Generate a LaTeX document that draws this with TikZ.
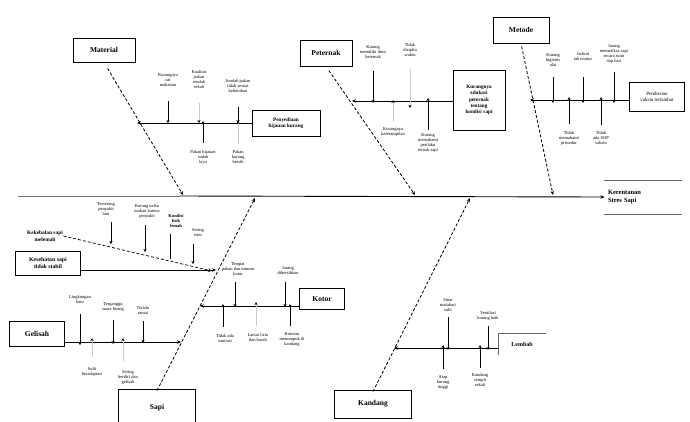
\documentclass[tikz,border=0pt]{standalone}
\usepackage{fontspec}
\setmainfont{Liberation Serif}
\usetikzlibrary{arrows.meta}
\begin{document}
\begin{tikzpicture}[x=1pt,y=-1pt,
 catbox/.style={draw, line width=0.9pt, font=\fontsize{7.5}{8.5}\selectfont\bfseries, align=center, inner sep=1pt},
 subbox/.style={draw, line width=0.6pt, font=\fontsize{5.2}{6.2}\selectfont\bfseries, align=center, inner sep=1pt},
 lbl/.style={font=\fontsize{4.5}{5}\selectfont, align=center, inner sep=0.5pt},
 bone/.style={line width=0.8pt, densely dashed, -{Stealth[length=4pt,width=3.5pt]}},
 rib/.style={line width=0.7pt, -{Stealth[length=4pt,width=3.5pt]}},
 cause/.style={line width=0.8pt, -{Stealth[length=3pt,width=3pt]}, shorten <=5pt},
 faint/.style={line width=0.6pt, draw=black!20, -{Stealth[length=3pt,width=3pt,black]}, shorten <=5pt}
]
\useasboundingbox (0,0) rectangle (690,421);

% ---------- spine and effect ----------
\coordinate (spineL) at (18,196);
\node[font=\fontsize{6.5}{8}\selectfont\bfseries, align=left, text width=70pt, minimum height=34pt] (effect) at (643,197) {Kerentanan\\Stres Sapi};
\draw[line width=0.5pt, black!60] (effect.north west) -- (effect.north east);
\draw[line width=0.5pt, black!60] (effect.south west) -- (effect.south east);
\draw[line width=0.9pt, black!55] (spineL) -- (180,196);
\draw[rib, line width=0.9pt] (180,196) -- (effect.west);

% junctions on spine
\coordinate (jm) at (183,195);
\coordinate (jp) at (415,195);
\coordinate (jt) at (553,195);
\coordinate (js) at (255,198);
\coordinate (jkd) at (470,198);

% ---------- Material ----------
\node[catbox, minimum width=62pt, minimum height=24pt] (mat) at (104,50) {Material};
\draw[bone, shorten <=7pt] (mat.south) -- (jm);
\node[subbox, minimum width=68pt, minimum height=26pt] (pk) at (286,123) {Penyediaan\\hijauan kurang};
\coordinate (mb) at (137,123);
\draw[rib] (pk.west) -- (mb);
\node[lbl] (m1) at (168,80) {Kurangnya\\zat\\makanan};
\node[lbl] (m2) at (199,79) {Kualitas\\pakan\\rendah\\sekali};
\node[lbl] (m3) at (238,86) {Jumlah pakan\\tidak sesuai\\kebutuhan};
\node[lbl] (m4) at (203,157) {Pakan hijauan\\sudah\\layu};
\node[lbl] (m5) at (238,157) {Pakan\\kurang\\bersih};
\draw[cause, shorten <=14pt] (m1.south) -- (m1.south |- mb);
\draw[faint, shorten <=14pt] (m2.south) -- (m2.south |- mb);
\draw[cause, shorten <=14pt] (m3.south) -- (m3.south |- mb);
\draw[cause, shorten <=6pt] (m4.north) -- ([yshift=2pt]m4.north |- mb);
\draw[faint, shorten <=6pt] (m5.north) -- ([yshift=2pt]m5.north |- mb);

% ---------- Peternak ----------
\node[catbox, minimum width=52pt, minimum height=26pt] (pet) at (326,53) {Peternak};
\draw[bone, shorten <=5pt] (pet.south) -- (jp);
\node[subbox, text width=50pt, minimum height=60pt] (ke) at (479,100) {Kurangnya\\edukasi\\peternak\\tentang\\kondisi sapi};
\coordinate (pb) at (352,101);
\draw[rib] (ke.west |- pb) -- (pb);
\node[lbl] (p1) at (373,52) {Kurang\\memiliki ilmu\\beternak};
\node[lbl] (p2) at (410,50) {Tidak\\disiplin\\waktu};
\node[lbl] (p3) at (393,132) {Kurangnya\\keterampilan};
\node[lbl] (p4) at (428,143) {Kurang\\memahami\\perilaku\\ternak sapi};
\draw[cause, shorten <=12pt] (p1.south) -- ([yshift=-2pt]p1.south |- pb);
\draw[faint, shorten <=12pt] (p2.south) -- ([yshift=-7pt]p2.south |- pb);
\draw[faint, shorten <=6pt] (p3.north) -- ([yshift=1pt]p3.north |- pb);
\draw[cause, shorten <=3pt] (p4.north) -- ([yshift=3pt]p4.north |- pb);

% ---------- Metode ----------
\node[catbox, minimum width=56pt, minimum height=26pt] (met) at (521,30) {Metode};
\draw[bone, shorten <=3pt] (met.south) -- (jt);
\node[subbox, minimum width=55pt, minimum height=29pt, font=\fontsize{5}{6}\selectfont] (pv) at (657,97) {Pemberian\\vaksin terlambat};
\coordinate (tb) at (530,100);
\draw[rib] (pv.west |- tb) -- (tb);
\node[lbl] (t1) at (553,60) {Kurang\\higienis\\alat};
\node[lbl] (t2) at (583,56) {Jadwal\\tak teratur};
\node[lbl] (t3) at (614,54) {Jarang\\memeriksa sapi\\secara rutin\\tiap hari};
\node[lbl] (t4) at (569,138) {Tidak\\memahami\\prosedur};
\node[lbl] (t5) at (601,138) {Tidak\\ada SOP\\vaksin};
\draw[cause, shorten <=10pt] (t1.south) -- ([yshift=-3pt]t1.south |- tb);
\draw[cause, shorten <=16pt] (t2.south) -- ([yshift=-3pt]t2.south |- tb);
\draw[cause, shorten <=8pt] (t3.south) -- ([yshift=-3pt]t3.south |- tb);
\draw[cause, shorten <=6pt] (t4.north) -- ([yshift=3pt]t4.north |- tb);
\draw[cause, shorten <=6pt] (t5.north) -- ([yshift=3pt]t5.north |- tb);

% ---------- Sapi ----------
\node[catbox, minimum width=77pt, minimum height=38pt] (sapi) at (157,408) {Sapi};
\draw[bone, shorten <=0pt] ([yshift=-2pt]sapi.north) -- (js);
\coordinate (jk) at (216,270);
\node[subbox, minimum width=65pt, minimum height=24pt, font=\fontsize{5.8}{6.8}\selectfont\bfseries] (ks) at (48,263) {Kesehatan sapi\\tidak stabil};
\draw[rib] (ks.east |- jk) -- (jk);
\node[font=\fontsize{5.4}{6.4}\selectfont\bfseries, align=center, inner sep=0.5pt] (kk) at (45,236) {Kekebalan sapi\\melemah};
\draw[line width=0.7pt, densely dashed, -{Stealth[length=4pt,width=3.5pt]}] (kk.east) -- ([xshift=-4pt,yshift=-1pt]jk);
\coordinate (ka) at (111,244);
\coordinate (kb) at (145,252);
\coordinate (kc) at (170,259);
\coordinate (kdd) at (193,264);
\node[lbl] (s1) at (106,209) {Terserang\\penyakit\\lain};
\node[lbl] (s2) at (147,211) {Kurang nafsu\\makan karena\\penyakit};
\node[lbl, font=\fontsize{4.5}{5}\selectfont\bfseries] (s3) at (176,221) {Kondisi\\fisik\\lemah};
\node[lbl] (s4) at (198,233) {Sering\\stres};
\draw[cause, shorten <=6pt] (s1.south -| ka) -- (ka);
\draw[cause, shorten <=6pt] (s2.south -| kb) -- (kb);
\draw[line width=0.8pt, shorten <=6pt] (s3.south -| kc) -- (kc);
\draw[cause, shorten <=6pt] (s4.south -| kdd) -- (kdd);

% Gelisah
\node[catbox, minimum width=55pt, minimum height=25pt] (gl) at (37,334) {Gelisah};
\coordinate (jg) at (181,342);
\draw[rib] (gl.east |- jg) -- (jg);
\node[lbl] (g1) at (80,299) {Lingkungan\\baru};
\node[lbl] (g2) at (113,307) {Terganggu\\suara bising};
\node[lbl] (g3) at (143,310) {Terlalu\\ramai};
\node[lbl] (g4) at (92,372) {Sulit\\beradaptasi};
\node[lbl] (g5) at (128,377) {Sering\\berdiri dan\\gelisah};
\draw[cause, shorten <=10pt] (g1.south) -- ([yshift=-3pt]g1.south |- jg);
\draw[cause, shorten <=8pt] (g2.south) -- ([yshift=-2pt]g2.south |- jg);
\draw[cause, shorten <=6pt] (g3.south) -- ([yshift=-1pt]g3.south |- jg);
\draw[faint, shorten <=10pt] (g4.north) -- ([yshift=4pt]g4.north |- jg);
\draw[faint, shorten <=8pt] ([xshift=-5pt]g5.north) -- ([xshift=-5pt,yshift=4pt]g5.north |- jg);

% Kotor
\node[catbox, minimum width=45pt, minimum height=21pt] (kt) at (322,299) {Kotor};
\coordinate (jko) at (200,306);
\draw[rib] (jko -| kt.west) -- (jko);
\node[lbl] (k1) at (238,269) {Tempat\\pakan dan minum\\kotor};
\node[lbl] (k2) at (288,271) {Jarang\\dibersihkan};
\node[lbl] (k3) at (225,338) {Tidak ada\\sanitasi};
\node[lbl] (k4) at (258,337) {Lantai licin\\dan basah};
\node[lbl] (k5) at (292,340) {Kotoran\\menumpuk di\\kandang};
\draw[cause, shorten <=6pt] ([xshift=-3pt]k1.south) -- ([xshift=-3pt,yshift=-1pt]k1.south |- jko);
\draw[cause, shorten <=6pt] ([xshift=-3pt]k2.south) -- ([xshift=-3pt,yshift=-1pt]k2.south |- jko);
\draw[cause, shorten <=6pt] ([xshift=-2pt]k3.north) -- ([xshift=-2pt,yshift=2pt]k3.north |- jko);
\draw[faint, shorten <=6pt] ([xshift=-2pt]k4.north) -- ([xshift=-2pt,yshift=4pt]k4.north |- jko);
\draw[cause, shorten <=6pt] ([xshift=-2pt]k5.north) -- ([xshift=-2pt,yshift=2pt]k5.north |- jko);

% ---------- Kandang ----------
\node[catbox, minimum width=77pt, minimum height=28pt] (kd) at (373,404) {Kandang};
\draw[bone, shorten <=0pt] ([yshift=-2pt]kd.north) -- (jkd);
\node[font=\fontsize{6}{7}\selectfont\bfseries, minimum width=48pt, minimum height=22pt] (lb) at (522,344) {Lembab};
\draw[line width=0.5pt, black!60] (lb.south west) -- (lb.north west) -- (lb.north east);
\coordinate (jl) at (394,348);
\draw[rib] (jl -| lb.west) -- (jl);
\node[lbl] (l1) at (448,305) {Sinar\\matahari\\sulit};
\node[lbl] (l2) at (488,316) {Ventilasi\\kurang baik};
\node[lbl] (l3) at (443,382) {Atap\\kurang\\tinggi};
\node[lbl] (l4) at (480,380) {Kandang\\sempit\\sekali};
\draw[cause, shorten <=5pt] (l1.south) -- ([yshift=-2pt]l1.south |- jl);
\draw[cause, shorten <=5pt] (l2.south) -- ([yshift=-2pt]l2.south |- jl);
\draw[cause, shorten <=5pt] (l3.north) -- ([yshift=3pt]l3.north |- jl);
\draw[cause, shorten <=5pt] (l4.north) -- ([yshift=3pt]l4.north |- jl);
\end{tikzpicture}
\end{document}
